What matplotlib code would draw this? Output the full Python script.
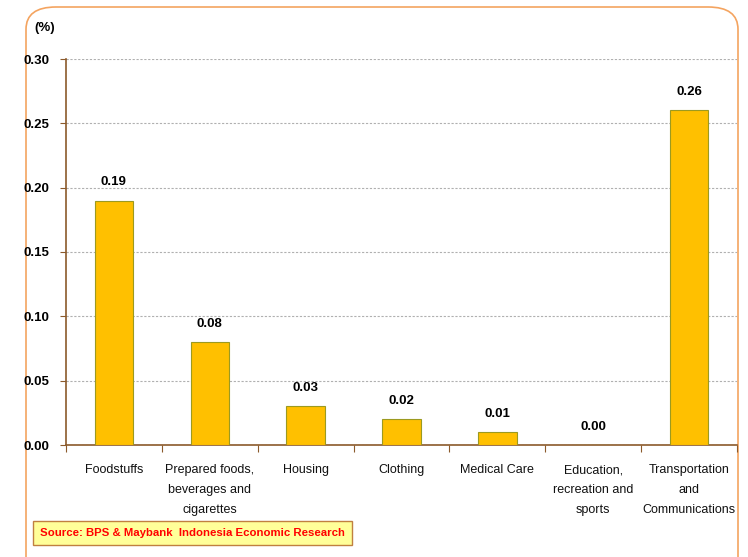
import matplotlib.pyplot as plt
from matplotlib.patches import FancyBboxPatch
from matplotlib import font_manager

categories = [
    "Foodstuffs",
    "Prepared foods,\nbeverages and\ncigarettes",
    "Housing",
    "Clothing",
    "Medical Care",
    "Education,\nrecreation and\nsports",
    "Transportation\nand\nCommunications",
]
values = [0.19, 0.08, 0.03, 0.02, 0.01, 0.00, 0.26]
y_ticks = [0.00, 0.05, 0.10, 0.15, 0.20, 0.25, 0.30]

names = {f.name for f in font_manager.fontManager.ttflist}
FONT = "Liberation Sans Narrow" if "Liberation Sans Narrow" in names else "Liberation Sans"
plt.rcParams["font.family"] = [FONT, "DejaVu Sans"]

BAR = "#FFC000"
BAR_EDGE = "#9C9A20"
AXIS = "#8B5A2B"

W, H = 748, 557
fig = plt.figure(figsize=(W / 100, H / 100), dpi=100)
fig.patch.set_facecolor("white")

# rounded orange frame
fig.patches.append(FancyBboxPatch(
    (26 / W, -0.05), (738 - 26) / W, 1 - 7 / H + 0.05,
    boxstyle="round,pad=0,rounding_size=0.04",
    transform=fig.transFigure, facecolor="none",
    edgecolor="#F4A460", linewidth=1.2, zorder=-1))

ax = fig.add_axes([66 / W, 1 - 445 / H, (737 - 66) / W, (445 - 59) / H])
ax.set_facecolor("none")
x = range(len(categories))
ax.bar(x, values, width=0.4, color=BAR, edgecolor=BAR_EDGE, linewidth=0.8, zorder=3)
for xi, v in zip(x, values):
    ax.annotate(f"{v:.2f}", (xi, v), xytext=(0, 9), textcoords="offset points",
                ha="center", va="bottom", fontsize=9.5, fontweight="bold")

ax.set_xlim(-0.5, len(categories) - 0.5)
ax.set_ylim(0, 0.30)
ax.set_yticks(y_ticks)
ax.set_yticklabels([f"{t:.2f}" for t in y_ticks], fontsize=9.5, fontweight="bold")
ax.yaxis.grid(True, color="#B0B0B0", linestyle=(0, (2, 1.5)), linewidth=0.8, zorder=0)

ax.set_xticks([i + 0.5 for i in range(-1, len(categories))], minor=False)
ax.set_xticklabels([])
ax.set_xticks(list(x), minor=True)
ax.set_xticklabels(categories, minor=True, fontsize=9, linespacing=1.85, va="top",
                   color="#111111")
ax.tick_params(axis="x", which="major", length=5, color=AXIS, direction="out")
ax.tick_params(axis="x", which="minor", length=0, pad=14)
ax.tick_params(axis="y", length=4, color=AXIS, pad=8)

for s in ("top", "right"):
    ax.spines[s].set_visible(False)
for s in ("left", "bottom"):
    ax.spines[s].set_color(AXIS)
    ax.spines[s].set_linewidth(1.2)

fig.text(34 / W, 1 - 28 / H, "(%)", ha="left", va="center", fontsize=9.5, fontweight="bold")

fig.text(40 / W, 1 - 533 / H, "Source: BPS & Maybank  Indonesia Economic Research",
         ha="left", va="center", fontsize=8.2, fontweight="bold", color="#FF0000",
         bbox=dict(boxstyle="square,pad=0.6", facecolor="#FFFF99", edgecolor="#C08040",
                   linewidth=1.0))

fig.savefig("out.png", dpi=100)
